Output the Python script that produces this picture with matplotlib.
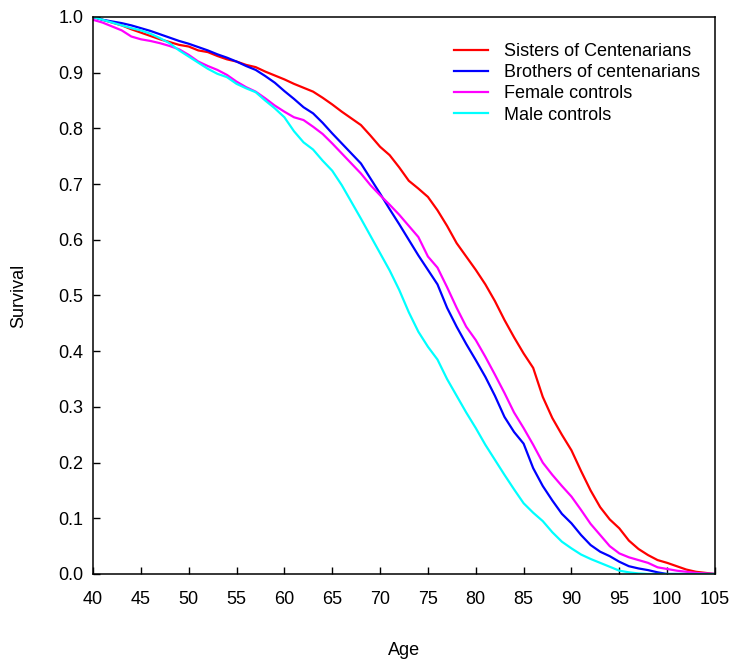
import numpy as np
import matplotlib
matplotlib.use('Agg')
import matplotlib.pyplot as plt

plt.rcParams['font.family'] = ['Liberation Sans', 'DejaVu Sans']

ages = np.arange(40, 106)

sisters = [1.0, 0.995, 0.99, 0.985, 0.978, 0.972, 0.966, 0.96, 0.955, 0.95,
           0.947, 0.94, 0.937, 0.93, 0.924, 0.92, 0.914, 0.91, 0.902, 0.895,
           0.888, 0.88, 0.873, 0.866, 0.855, 0.843, 0.83, 0.818, 0.806, 0.787,
           0.767, 0.752, 0.73, 0.706, 0.692, 0.677, 0.653, 0.625, 0.594, 0.57,
           0.546, 0.52, 0.49, 0.456, 0.425, 0.396, 0.37, 0.318, 0.28, 0.25,
           0.222, 0.185, 0.15, 0.12, 0.098, 0.082, 0.06, 0.045, 0.034, 0.025,
           0.02, 0.014, 0.008, 0.004, 0.002, 0.0]

brothers = [1.0, 0.995, 0.992, 0.989, 0.985, 0.98, 0.975, 0.969, 0.963, 0.957,
            0.952, 0.946, 0.94, 0.933, 0.927, 0.92, 0.912, 0.905, 0.894, 0.882,
            0.867, 0.853, 0.838, 0.827, 0.81, 0.791, 0.773, 0.755, 0.737, 0.71,
            0.683, 0.655, 0.628, 0.6, 0.572, 0.546, 0.52, 0.478, 0.444, 0.413,
            0.384, 0.354, 0.32, 0.282, 0.255, 0.234, 0.19, 0.158, 0.132, 0.108,
            0.091, 0.07, 0.052, 0.04, 0.032, 0.022, 0.014, 0.01, 0.007, 0.003,
            0.0, 0.0, 0.0, 0.0, 0.0, 0.0]

female = [0.995, 0.99, 0.983, 0.976, 0.965, 0.96, 0.957, 0.953, 0.948, 0.942,
          0.932, 0.92, 0.912, 0.905, 0.896, 0.884, 0.874, 0.866, 0.854, 0.841,
          0.83, 0.82, 0.815, 0.803, 0.79, 0.773, 0.755, 0.737, 0.719, 0.698,
          0.68, 0.663, 0.645, 0.625, 0.605, 0.57, 0.55, 0.515, 0.478, 0.444,
          0.42, 0.39, 0.358, 0.325, 0.29, 0.262, 0.232, 0.2, 0.178, 0.158,
          0.139, 0.115, 0.09, 0.07, 0.05, 0.037, 0.03, 0.025, 0.02, 0.012,
          0.009, 0.006, 0.004, 0.002, 0.001, 0.0]

male = [1.0, 0.995, 0.99, 0.985, 0.98, 0.976, 0.97, 0.962, 0.953, 0.94,
        0.929, 0.918, 0.907, 0.898, 0.892, 0.88, 0.872, 0.865, 0.85, 0.836,
        0.82, 0.795, 0.775, 0.762, 0.742, 0.724, 0.698, 0.668, 0.638, 0.607,
        0.576, 0.545, 0.51, 0.47, 0.435, 0.408, 0.385, 0.35, 0.32, 0.29,
        0.262, 0.232, 0.205, 0.178, 0.152, 0.127, 0.11, 0.095, 0.075, 0.058,
        0.046, 0.035, 0.027, 0.02, 0.013, 0.006, 0.003, 0.001, 0.0, 0.0,
        0.0, 0.0, 0.0, 0.0, 0.0, 0.0]

series = [(sisters, 'Sisters of Centenarians', '#ff0000'),
          (brothers, 'Brothers of centenarians', '#0000ff'),
          (female, 'Female controls', '#ff00ff'),
          (male, 'Male controls', '#00ffff')]

fig = plt.figure(figsize=(7.3, 6.6), dpi=100)
ax = fig.add_axes([93/730, 86/660, 622/730, 557/660])

for vals, name, col in series:
  ax.plot(ages, vals, color=col, lw=1.6, label=name)

ax.set_xlim(40, 105)
ax.set_ylim(0, 1.0)
ax.set_xticks(np.arange(40, 106, 5))
ax.set_yticks(np.arange(0, 1.01, 0.1))
ax.yaxis.set_major_formatter(matplotlib.ticker.FormatStrFormatter('%.1f'))
ax.tick_params(direction='in', length=5, width=1, labelsize=13)
ax.tick_params(axis='x', pad=12)
ax.tick_params(axis='y', pad=7)
for s in ax.spines.values():
  s.set_linewidth(1.1)

ax.set_xlabel('Age', fontsize=13, labelpad=25)
ax.set_ylabel('Survival', fontsize=13, labelpad=22)

ax.legend(loc='upper left', bbox_to_anchor=(0.58, 0.953), frameon=False,
          fontsize=13, handlelength=1.9, handletextpad=0.9, labelspacing=0.23,
          borderpad=0, borderaxespad=0)

fig.savefig('out.png', dpi=100)
